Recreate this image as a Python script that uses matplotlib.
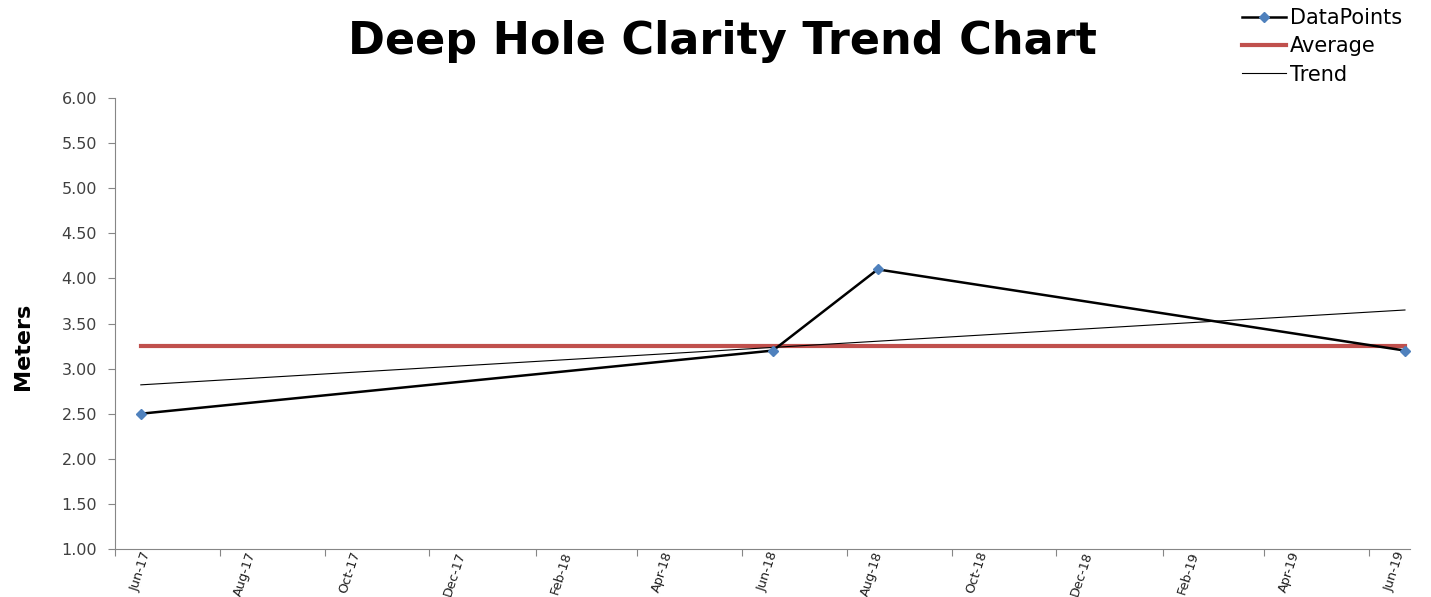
import numpy as np
import pandas as pd
import matplotlib
matplotlib.use('Agg')
import matplotlib.pyplot as plt
import matplotlib.dates as mdates
import matplotlib.transforms as mtransforms

# data
dates = pd.to_datetime(['2017-06-16', '2018-06-19', '2018-08-19', '2019-06-22'])
values = [2.50, 3.20, 4.10, 3.20]
average = 3.25
trend_ends = [2.82, 3.65]

fig = plt.figure(figsize=(14.31, 5.97), dpi=100)
ax = fig.add_axes([0.0804, 0.0804, 0.905, 0.7554])

ax.plot(dates, values, color='black', lw=1.8, marker='D', markersize=5,
        markerfacecolor='#4F81BD', markeredgecolor='#4F81BD', label='DataPoints', zorder=4)
ax.plot([dates[0], dates[-1]], [average, average], color='#C0504D', lw=3, label='Average', zorder=3)
ax.plot([dates[0], dates[-1]], trend_ends, color='black', lw=0.8, label='Trend', zorder=3)

ax.set_ylim(1, 6)
ax.set_yticks(np.arange(1, 6.01, 0.5))
ax.yaxis.set_major_formatter(matplotlib.ticker.FormatStrFormatter('%.2f'))
ax.set_xlim(pd.Timestamp('2017-06-01'), pd.Timestamp('2019-06-25'))
ax.xaxis.set_major_locator(mdates.MonthLocator(bymonth=[2, 4, 6, 8, 10, 12]))
ax.xaxis.set_major_formatter(mdates.DateFormatter('%b-%y'))

for s in ['top', 'right']:
    ax.spines[s].set_visible(False)
for s in ['left', 'bottom']:
    ax.spines[s].set_color('#868686')
ax.tick_params(axis='both', color='#868686', length=5, direction='out')
ax.tick_params(axis='y', labelsize=11.5, labelcolor='#404040', pad=8)
ax.tick_params(axis='x', labelsize=9.3, labelcolor='#202020', pad=0)

offset = mtransforms.ScaledTranslation(0.32, 0.04, fig.dpi_scale_trans)
for lab in ax.get_xticklabels():
    lab.set_rotation(72)
    lab.set_ha('right')
    lab.set_va('center')
    lab.set_rotation_mode('anchor')
    lab.set_family(['Liberation Sans Narrow', 'DejaVu Sans'])
    lab.set_transform(lab.get_transform() + offset)

fig.text(0.016, 0.42, 'Meters', rotation=90, fontsize=16, fontweight='bold',
         family=['Liberation Sans Narrow', 'DejaVu Sans'], ha='center', va='center')
fig.text(0.505, 0.93, 'Deep Hole Clarity Trend Chart', fontsize=32, fontweight='bold',
         ha='center', va='center')

fig.legend(loc='upper left', bbox_to_anchor=(0.855, 1.018), frameon=False, fontsize=15,
           handlelength=2.1, handletextpad=0.2, labelspacing=0.4)

fig.savefig('out.png', dpi=100)
